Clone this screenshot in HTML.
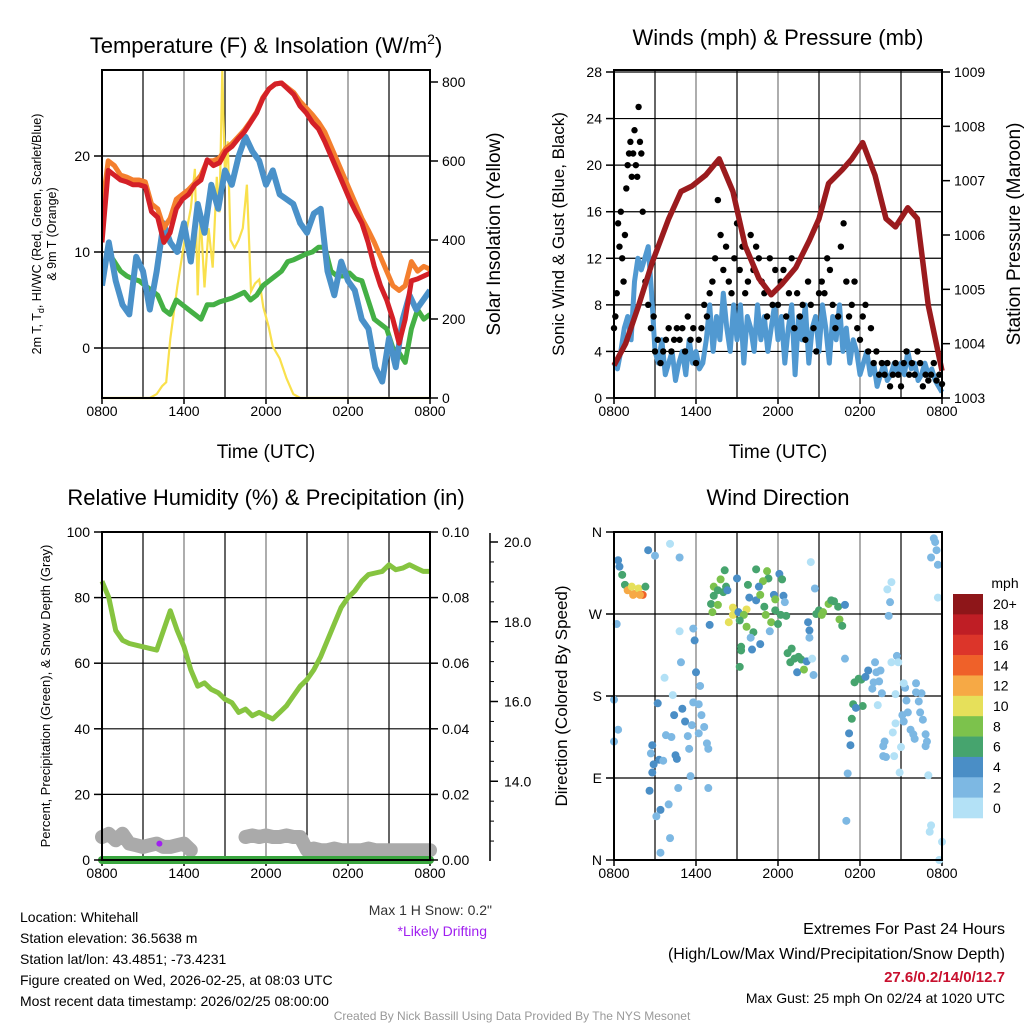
<!DOCTYPE html>
<html><head><meta charset="utf-8"><style>
html,body{margin:0;padding:0;background:#fff}
svg{display:block;font-family:"Liberation Sans",sans-serif}
</style></head><body>
<svg id="c" width="1024" height="1024" viewBox="0 0 1024 1024" xmlns="http://www.w3.org/2000/svg">
<g id="txt" fill="#000">
<text x="266" y="53" font-size="22" text-anchor="middle">Temperature (F) &amp; Insolation (W/m<tspan font-size="14" dy="-9">2</tspan><tspan dy="9">)</tspan></text>
<text x="778" y="45" font-size="22" text-anchor="middle">Winds (mph) &amp; Pressure (mb)</text>
<text x="266" y="505" font-size="22" text-anchor="middle">Relative Humidity (%) &amp; Precipitation (in)</text>
<text x="778" y="505" font-size="22" text-anchor="middle">Wind Direction</text>
<text x="266" y="458" font-size="19" text-anchor="middle">Time (UTC)</text>
<text x="778" y="458" font-size="19" text-anchor="middle">Time (UTC)</text>
<text transform="translate(41,234) rotate(-90)" font-size="12.5" text-anchor="middle">2m T, T<tspan font-size="9" dy="3">d</tspan><tspan dy="-3">, HI/WC (Red, Green, Scarlet/Blue)</tspan></text>
<text transform="translate(56,234) rotate(-90)" font-size="12.5" text-anchor="middle">&amp; 9m T (Orange)</text>
<text transform="translate(500,234) rotate(-90)" font-size="19" text-anchor="middle">Solar Insolation (Yellow)</text>
<text transform="translate(564,234) rotate(-90)" font-size="17" text-anchor="middle">Sonic Wind &amp; Gust (Blue, Black)</text>
<text transform="translate(1020,234) rotate(-90)" font-size="19" text-anchor="middle">Station Pressure (Maroon)</text>
<text transform="translate(50,696) rotate(-90)" font-size="13" text-anchor="middle">Percent, Precipitation (Green), &amp; Snow Depth (Gray)</text>
<text transform="translate(567,696) rotate(-90)" font-size="17" text-anchor="middle">Direction (Colored By Speed)</text>
<text x="1005" y="588" font-size="14" text-anchor="middle">mph</text>
<text x="20" y="922" font-size="14">Location: Whitehall</text>
<text x="20" y="943" font-size="14">Station elevation: 36.5638 m</text>
<text x="20" y="964" font-size="14">Station lat/lon: 43.4851; -73.4231</text>
<text x="20" y="985" font-size="14">Figure created on Wed, 2026-02-25, at 08:03 UTC</text>
<text x="20" y="1006" font-size="14">Most recent data timestamp: 2026/02/25 08:00:00</text>
<text x="492" y="915" font-size="14" text-anchor="end" fill="#333">Max 1 H Snow: 0.2"</text>
<text x="487" y="936" font-size="14" text-anchor="end" fill="#a020f0">*Likely Drifting</text>
<text x="1005" y="934" font-size="16" text-anchor="end">Extremes For Past 24 Hours</text>
<text x="1005" y="959" font-size="16" text-anchor="end">(High/Low/Max Wind/Precipitation/Snow Depth)</text>
<text x="1005" y="982" font-size="15" font-weight="bold" fill="#c8102e" text-anchor="end">27.6/0.2/14/0/12.7</text>
<text x="1005" y="1003" font-size="14" text-anchor="end">Max Gust: 25 mph On 02/24 at 1020 UTC</text>
<text x="512" y="1020" font-size="12" fill="#999" text-anchor="middle">Created By Nick Bassill Using Data Provided By The NYS Mesonet</text>
</g>
</svg>
<script>
// ---- shared time axis ----
const xTickLabels = ["0800","1400","2000","0200","0800"];
const hours = []; for (let i = 0; i <= 48; i++) hours.push(i / 2);
// ---- panel 1 ----
const tempTicks = [0, 10, 20];
const insolTicks = [0, 200, 400, 600, 800];
const temp2m = [11,18.5,18,17.5,17.3,17,17,16.8,14.2,13.6,11,12,14.5,15.5,16,17,17.5,19.6,19,19.3,20.5,21,21.8,22.5,23.5,24.5,26,27,27.5,27.6,27,26.4,25.2,24.5,23.5,22.8,21.5,20,18.5,17,15.5,14.2,13,11,8.5,6.5,5,3,0.5,3,7,7.2,7.5,7.8];
const temp9m = [14.5,19.5,19,18,17.8,17.5,17.5,17.3,15,14.5,12.5,13.5,15.5,16,16.5,17.2,18,19.5,19.5,19.8,20.8,21.3,22,22.7,23.6,24.6,26.1,27,27.5,27.6,27.1,26.6,25.7,25,24.3,23.5,22.5,21,19.5,18,16.5,15,13.5,12.3,11,9.5,8,6.5,6,6.5,9,8,8.5,8.2];
const dewpt = [8,10,9,8,7.5,7.2,7,6.5,6,5.5,4,3.5,5,4.5,4,3.5,3,4.5,4.5,4.8,5,5.2,5.5,5.8,5,5.5,6.5,7,7.5,8,9,9.2,9.5,9.8,10,10.5,10.5,8,7.5,7.5,7.8,7.2,7,5,3,2.5,2,0,-0.5,-1.5,2,4,3,3.5];
const windChill = [6.5,11,7,4.5,3.5,9.5,8,4,8,13,11,10,13,9,15,12,17,14.5,18.5,17,20,22,20.5,19.5,17,18.5,16,15.5,15,13,12,14,14.5,8,5.5,9,7,6,3,2,-2,-3.5,1,-2,3,5.5,4,5,6];
const insolHours = [0,3.5,4.0,4.4,4.7,5.0,5.5,6.0,6.5,6.8,7.0,7.2,7.5,7.8,8.1,8.4,8.6,8.8,9.0,9.2,9.4,9.7,10.0,10.3,10.6,10.9,11.2,11.5,11.8,12.2,12.5,13.0,13.5,14.0,14.5,24];
const insolation = [0,0,10,30,40,150,280,390,480,580,260,470,280,430,330,560,470,830,560,650,400,380,400,430,540,270,290,300,230,180,130,100,50,10,0,0];
// ---- panel 2 ----
const windTicks = [0,4,8,12,16,20,24,28];
const presTicks = [1003,1004,1005,1006,1007,1008,1009];
const sonicWind = [3,2.5,4,6,7,5,10,12,11,12,13,9,
4,3,5,2,3,4,1.5,3,4,2,5,3,
4,2.5,3,5,8,4,7,5,9,6,4,8,
5,8,3,7,6,4,8,5,7,4,6,8,
5,7,3,6,8,2,7,5,8,3,6,7,
4,8,6,3,7,5,8,4,6,3,5,4,
2,3,4,2,3,1,2,3,1.5,2,3,2,
3,2,4,2.5,3,1.5,2,3,2,2.5,1.5,1,
0.5];
const presHours = [0,0.85,1.8,2.8,4.0,4.9,5.7,6.7,7.7,8.7,9.6,10.6,11.5,12.3,13.3,14.3,15.0,15.7,16.7,17.4,18.2,19.1,19.9,20.6,21.5,22.2,23.0,24];
const pressure = [1003.6,1004.0,1004.7,1005.5,1006.3,1006.8,1006.9,1007.1,1007.4,1006.8,1005.8,1005.2,1004.9,1005.1,1005.4,1005.9,1006.3,1006.95,1007.2,1007.4,1007.7,1007.1,1006.3,1006.15,1006.5,1006.3,1004.7,1003.5];
const gustHours = [0,0.1,0.2,0.3,0.4,0.5,0.6,0.7,0.8,0.9,1.0,1.1,1.2,1.3,1.4,1.5,1.6,1.7,1.8,1.9,2.0,2.1,2.3,2.5,2.7,2.9,3.0,3.2,3.4,3.6,3.8,4.0,4.2,4.4,4.6,4.8,5.0,5.2,5.4,5.6,5.8,6.0,6.2,6.4,6.6,6.8,7.0,7.2,7.4,7.6,7.8,8.0,8.2,8.4,8.6,8.8,9.0,9.2,9.4,9.6,9.8,10.0,10.2,10.4,10.6,10.8,11.0,11.2,11.4,11.6,11.8,12.0,12.2,12.4,12.6,12.8,13.0,13.2,13.4,13.6,13.8,14.0,14.2,14.4,14.6,14.8,15.0,15.2,15.4,15.6,15.8,16.0,16.2,16.4,16.6,16.8,17.0,17.2,17.4,17.6,17.8,18.0,18.2,18.4,18.6,18.8,19.0,19.2,19.4,19.6,19.8,20.0,20.2,20.4,20.6,20.8,21.0,21.2,21.4,21.6,21.8,22.0,22.2,22.4,22.6,22.8,23.0,23.2,23.4,23.6,23.8,24];
const gusts = [6,7,9,15,13,16,12,10,14,18,20,21,22,19,21,23,20,19,25,22,21,16,10,8,6,7,4,5,3,4,5,6,4,5,6,5,6,4,7,5,6,3,5,6,8,7,9,10,12,17,14,11,13,10,9,12,15,11,13,9,10,14,11,13,12,10,9,7,12,8,11,8,10,11,7,9,12,6,9,7,8,5,10,8,6,4,9,10,9,12,11,8,6,7,13,15,10,7,8,10,6,5,7,8,4,6,3,4,2,3,2,3,1,2,3,2,1,3,4,2,3,2,4,3,1,2,1.5,2,3,1.5,2,1.2];
// ---- panel 3 ----
const rhTicks = [0,20,40,60,80,100];
const precipTicks = ["0.00","0.02","0.04","0.06","0.08","0.10"];
const snowTicks = [14,16,18,20];
const rh = [85,80,70,67,66,65.5,65,64.5,64,70,76,70,65,58,53,54,52,51,49,48,45,46,44,45,44,43,45,47,50,53,55,58,62,67,72,77,80,82,85,87,87.5,88,90,88.5,89,90,89,88,88];
const snowGray = [7,8,6,8,5,4.5,4,4.5,5,4,4,4.5,5,3,null,null,null,null,null,null,null,7,7.5,7,7.5,7,7,7.5,7,7,3,3.5,3,3,3.5,3,3,3,3,3.5,3,3,3,3,3,3,3,3,3];
const precip = []; for (let i = 0; i <= 48; i++) precip.push(0);
// ---- panel 4 ----
const dirTickLabels = ["N","E","S","W","N"];
const speedBins = ["0","2","4","6","8","10","12","14","16","18","20+"];
const speedColors = ["#b3e1f6","#7db8e3","#4a8ec6","#46a46e","#7cc24c","#e6e05a","#f6a945","#ef6129","#dc352a","#bf1e25","#8e1619"];
const dirHours = [2.5,3.0,4.1,4.8,0.2,4.8,5.8,5.9,4.9,3.7,6.0,6.3,4.3,5.8,6.2,3.2,5.0,4.4,5.2,5.7,6.4,6.6,6.2,5.4,4.2,3.8,2.8,5.5,6.8,6.9,2.7,3.3,3.6,4.5,4.6,2.9,2.8,5.6,2.6,4.7,6.9,4.0,3.4,3.1,4.1,3.4,0.0,0.3,0.0,
0.3,0.4,0.6,0.8,1.0,1.3,1.5,1.8,2.1,2.3,1.9,1.4,
7.3,7.8,8.1,7.6,7.3,7.1,7.6,7.2,8.2,8.0,8.3,9.0,7.0,8.4,8.7,8.7,9.1,9.7,9.5,9.2,9.7,10.2,10.0,10.7,10.1,9.3,9.3,9.2,9.8,10.4,11.2,11.3,10.9,10.6,9.9,10.4,10.7,11.0,11.1,11.8,11.5,12.0,11.4,12.1,12.3,11.7,12.4,11.8,12.5,12.2,12.6,14.4,14.7,14.2,14.3,14.3,12.7,13.0,12.9,13.2,13.5,13.7,13.4,13.9,14.1,14.5,14.6,15.0,15.3,15.7,15.9,16.1,16.4,16.5,16.7,16.9,16.9,14.8,15.2,
17.6,17.9,18.1,18.4,18.6,19.0,19.2,19.5,18.9,19.4,19.1,19.6,17.5,18.2,17.7,17.4,17.2,17.3,17.1,17.0,20.3,20.0,20.2,20.1,20.7,20.3,20.8,20.6,21.3,21.2,22.1,22.1,22.5,21.4,22.3,22.4,21.5,21.1,22.6,21.2,20.6,20.4,21.7,21.9,22.0,22.8,22.9,19.8,19.7,21.0,22.8,19.7,19.9,20.5,20.9,23.0,23.2,23.1,24.0,23.8,23.4,23.5,23.6,23.2,23.7,23.7,19.3];
const dirDegrees = [340,334,347,332,259,251,254,241,217,200,206,191,181,173,171,172,166,159,152,148,159,146,139,136,135,137,126,122,128,122,117,110,109,115,111,105,96,92,76,79,79,61,55,48,24,8,176,143,130,
329,322,313,302,296,300,292,298,291,300,291,291,
300,308,318,296,290,281,280,272,300,294,296,309,258,261,277,269,272,275,269,263,256,250,244,237,231,234,230,212,302,319,317,309,306,300,288,285,291,278,269,274,261,259,251,314,308,291,290,286,283,269,268,327,298,261,252,244,227,232,217,221,223,220,206,209,218,221,203,274,272,281,285,284,278,264,257,280,221,270,269,
195,199,198,201,208,195,206,208,188,196,217,183,171,169,167,155,139,126,95,43,305,297,283,268,224,217,217,182,189,194,194,184,183,175,174,162,162,159,154,152,150,140,143,138,133,138,130,130,125,124,125,114,113,114,96,93,38,31,20,0,353,349,340,332,324,288,170];
const dirSpeeds = [4,2,0,2,2,0,2,4,2,0,4,2,0,2,2,4,4,4,4,2,2,2,2,2,2,2,4,2,2,2,2,4,2,4,4,4,4,2,4,2,2,2,4,2,2,2,2,2,2,
4,4,6,6,12,10,12,10,14,6,12,12,
8,8,6,6,6,6,8,8,6,6,4,4,4,10,10,10,4,10,8,6,8,6,2,4,4,6,6,6,6,6,8,6,8,4,4,4,8,6,8,6,8,6,2,4,6,4,4,8,2,6,6,0,2,4,4,2,6,6,6,6,6,6,4,8,4,0,2,6,8,8,6,6,6,8,6,4,2,6,8,
6,6,6,4,4,2,2,2,2,2,2,2,6,6,4,6,4,4,2,2,0,0,2,2,2,0,0,0,2,0,2,2,2,2,2,2,2,2,2,2,0,0,2,2,2,2,2,2,2,0,2,2,2,0,0,0,0,0,0,0,2,2,2,2,2,0,0];

const NS = "http://www.w3.org/2000/svg";
const svg = document.getElementById("c");
function mk(tag, attrs, parent) {
  const e = document.createElementNS(NS, tag);
  for (const k in attrs) e.setAttribute(k, attrs[k]);
  (parent || svg).appendChild(e);
  return e;
}
function scale(d0, d1, r0, r1) { return v => r0 + (v - d0) * (r1 - r0) / (d1 - d0); }
function linePath(xs, ys, fx, fy) {
  let d = "", pen = false;
  for (let i = 0; i < xs.length; i++) {
    if (ys[i] === null || ys[i] === undefined) { pen = false; continue; }
    d += (pen ? "L" : "M") + fx(xs[i]).toFixed(1) + "," + fy(ys[i]).toFixed(1);
    pen = true;
  }
  return d;
}
function evenHours(arr) { return arr.map((v, i) => i * 24 / (arr.length - 1)); }
function frame(x0, y0, x1, y1, fx, hLines, name) {
  const g = mk("g", {});
  
  
  for (let h = 3; h < 24; h += 3) {
    mk("line", {x1: fx(h), x2: fx(h), y1: y0, y2: y1, stroke: (h % 6 === 0) ? "#777" : "#000", "stroke-width": 1.2}, g);
  }
  hLines.forEach(y => mk("line", {x1: x0, x2: x1, y1: y, y2: y, stroke: "#000", "stroke-width": 1.2}, g));
  for (let h = 0; h <= 24; h += 6) {
    mk("line", {x1: fx(h), x2: fx(h), y1: y1, y2: y1 + 6, stroke: "#000", "stroke-width": 1.5}, g);
  }
  xTickLabels.forEach((t, i) => {
    const tx = mk("text", {x: fx(i * 6), y: y1 + 18, "font-size": 14, "text-anchor": "middle"});
    tx.textContent = t;
    
    
  });
}
function border(x0, y0, x1, y1, name) {
  const r = mk("rect", {x: x0, y: y0, width: x1 - x0, height: y1 - y0, fill: "none", stroke: "#000", "stroke-width": 2});
  
  
}
function yTicks(x, fy, vals, labels, side, name) {
  vals.forEach((v, i) => {
    const y = fy(v);
    mk("line", {x1: x, x2: x + (side < 0 ? -8 : 8), y1: y, y2: y, stroke: "#000", "stroke-width": 1.5});
    const t = mk("text", {x: x + side * 12, y: y + 5, "font-size": 14, "text-anchor": side < 0 ? "end" : "start"});
    t.textContent = labels[i];
    
    
  });
}

// ===== Panel 1 =====
{
  const x0 = 102, x1 = 430, y0 = 70, y1 = 398;
  const fx = scale(0, 24, x0, x1);
  const fy = scale(0, 10, 348, 252);
  const fw = scale(0, 800, 398, 82);
  frame(x0, y0, x1, y1, fx, tempTicks.map(fy), "temp");
  const cp = mk("clipPath", {id: "cp1"}); mk("rect", {x: x0, y: y0 - 2, width: x1 - x0, height: y1 - y0 + 6}, cp);
  const g = mk("g", {"clip-path": "url(#cp1)"});
  const yw = mk("path", {d: linePath(insolHours, insolation, fx, fw), fill: "none", stroke: "#f9e04c", "stroke-width": 2.2}, g);
   
  const gr = mk("path", {d: linePath(evenHours(dewpt), dewpt, fx, fy), fill: "none", stroke: "#44b045", "stroke-width": 5, "stroke-linejoin": "round"}, g);
   
  const bl = mk("path", {d: linePath(evenHours(windChill), windChill, fx, fy), fill: "none", stroke: "#4a91c9", "stroke-width": 6, "stroke-linejoin": "round"}, g);
   
  const or = mk("path", {d: linePath(evenHours(temp9m), temp9m, fx, fy), fill: "none", stroke: "#f47f2e", "stroke-width": 5, "stroke-linejoin": "round"}, g);
   
  const rd = mk("path", {d: linePath(evenHours(temp2m), temp2m, fx, fy), fill: "none", stroke: "#d42027", "stroke-width": 5, "stroke-linejoin": "round"}, g);
   
  border(x0, y0, x1, y1, "temp");
  yTicks(x0, fy, tempTicks, tempTicks.map(String), -1, "temp-y");
  yTicks(x1, fw, insolTicks, insolTicks.map(String), 1, "insolation-y");
}
// ===== Panel 2 =====
{
  const x0 = 614, x1 = 942, y0 = 70, y1 = 398;
  const fx = scale(0, 24, x0, x1);
  const fy = scale(0, 28, 398, 72);
  const fp = scale(1003, 1009, 398, 72);
  frame(x0, y0, x1, y1, fx, windTicks.map(fy), "wind");
  const bl = mk("path", {d: linePath(evenHours(sonicWind), sonicWind, fx, fy), fill: "none", stroke: "#5199d1", "stroke-width": 5, "stroke-linejoin": "round"});
   
  const gg = mk("g", {});
   
  gustHours.forEach((h, i) => {
    const c = mk("circle", {cx: fx(h), cy: fy(gusts[i]), r: 3.2, fill: "#000"}, gg);
    
    
  });
  const pr = mk("path", {d: linePath(presHours, pressure, fx, fp), fill: "none", stroke: "#9b1b1e", "stroke-width": 5.5, "stroke-linejoin": "round"});
   
  border(x0, y0, x1, y1, "wind");
  yTicks(x0, fy, windTicks, windTicks.map(String), -1, "wind-y");
  yTicks(x1, fp, presTicks, presTicks.map(String), 1, "pressure-y");
}
// ===== Panel 3 =====
{
  const x0 = 102, x1 = 430, y0 = 532, y1 = 860;
  const fx = scale(0, 24, x0, x1);
  const fy = scale(0, 100, 860, 532);
  const fs = scale(12, 20, 861, 542);
  frame(x0, y0, x1, y1, fx, rhTicks.map(fy), "humidity");
  const sg = mk("path", {d: linePath(hours, snowGray, fx, fy), fill: "none", stroke: "#aaa", "stroke-width": 14, "stroke-linecap": "round", "stroke-linejoin": "round"});
   
  const pg = mk("path", {d: linePath(hours, precip, fx, fy), fill: "none", stroke: "#3aa63f", "stroke-width": 8, "stroke-linecap": "round"});
   
  const pd = mk("circle", {cx: fx(4.2), cy: fy(5), r: 3, fill: "#a020f0"});
   
  const rl = mk("path", {d: linePath(hours, rh, fx, fy), fill: "none", stroke: "#86c440", "stroke-width": 5, "stroke-linejoin": "round"});
   
  border(x0, y0, x1, y1, "humidity");
  yTicks(x0, fy, rhTicks, rhTicks.map(String), -1, "humidity-y");
  yTicks(x1, fy, rhTicks, precipTicks, 1, "precip-y");
  mk("line", {x1: 490, x2: 490, y1: 533, y2: 861, stroke: "#000", "stroke-width": 1.5});
  for (let v = 12.5; v <= 20; v += 0.5) mk("line", {x1: 490, x2: 494, y1: fs(v), y2: fs(v), stroke: "#000", "stroke-width": 1});
  snowTicks.forEach(v => {
    mk("line", {x1: 490, x2: 498, y1: fs(v), y2: fs(v), stroke: "#000", "stroke-width": 1.5});
    const t = mk("text", {x: 504, y: fs(v) + 5, "font-size": 14}); t.textContent = v.toFixed(1);
     
  });
}
// ===== Panel 4 =====
{
  const x0 = 614, x1 = 942, y0 = 532, y1 = 860;
  const fx = scale(0, 24, x0, x1);
  const fd = scale(0, 360, 860, 532);
  frame(x0, y0, x1, y1, fx, [90, 180, 270].map(fd), "direction");
  const gg = mk("g", {});
   
  dirHours.forEach((h, i) => {
    const bin = Math.min(10, Math.round(dirSpeeds[i] / 2));
    const c = mk("circle", {cx: fx(h), cy: fd(dirDegrees[i]), r: 4, fill: speedColors[bin]}, gg);
    
    
  });
  border(x0, y0, x1, y1, "direction");
  yTicks(x0, fd, [0, 90, 180, 270, 360], dirTickLabels, -1, "direction-y");
  const cb = mk("g", {});
   
  const bh = 224 / 11;
  speedColors.slice().reverse().forEach((col, i) => mk("rect", {x: 953, y: 594 + i * bh, width: 30, height: bh + 0.3, fill: col}, cb));
  speedBins.slice().reverse().forEach((lab, i) => {
    const t = mk("text", {x: 993, y: 594 + (i + 0.5) * bh + 5, "font-size": 14}, cb);
    t.textContent = lab;
    
    
  });
}
</script>
</body></html>
